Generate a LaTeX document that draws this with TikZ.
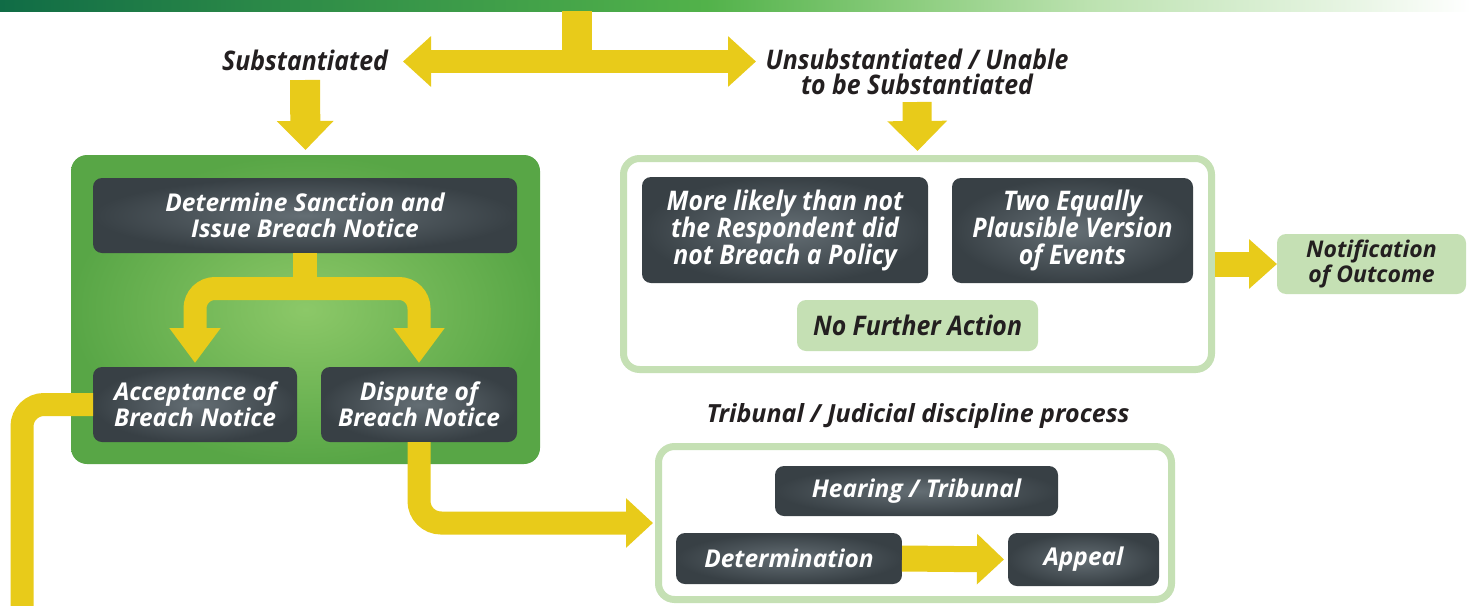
\documentclass[tikz,border=0pt]{standalone}
\usepackage{fontspec}
\usetikzlibrary{arrows.meta}
\newfontfamily\wfont{Open Sans}
\newfontfamily\nfont{Open Sans}[FakeStretch=0.92]
\definecolor{ylw}{RGB}{232,203,26}
\definecolor{lgr}{RGB}{197,224,180}
\definecolor{gdk}{RGB}{88,166,70}
\definecolor{glt}{RGB}{140,200,104}
\definecolor{dkin}{RGB}{100,110,116}
\definecolor{dkout}{RGB}{56,64,69}
\definecolor{txk}{RGB}{35,31,32}
\definecolor{bnA}{RGB}{16,108,70}
\definecolor{bnB}{RGB}{46,140,72}
\definecolor{bnC}{RGB}{82,178,74}
\definecolor{bnD}{RGB}{140,205,126}
\definecolor{bnE}{RGB}{188,226,176}
\definecolor{bnF}{RGB}{232,245,228}
\pgfdeclarehorizontalshading{bannershade}{100bp}{color(0bp)=(bnA); color(25bp)=(bnA); color(35bp)=(bnB); color(49bp)=(bnC); color(56bp)=(bnD); color(62bp)=(bnE); color(71bp)=(bnF); color(75bp)=(white); color(100bp)=(white)}
\begin{document}
\begin{tikzpicture}[x=1pt,y=-1pt,
  every node/.style={inner sep=0pt, outer sep=0pt},
  dbox/.style={rounded corners=9pt, inner color=dkin, outer color=dkout, text=white, align=center},
  wide/.style={font=\wfont\bfseries\itshape\fontsize{24.5}{26}\selectfont},
  narrow/.style={font=\nfont\bfseries\itshape\fontsize{27}{27}\selectfont},
  lbox/.style={rounded corners=9pt, fill=lgr, text=txk, align=center},
  frame/.style={draw=lgr, line width=7pt, rounded corners=16pt, fill=white},
  blabel/.style={text=txk, align=center, font=\nfont\bfseries\itshape\fontsize{27}{25}\selectfont},
  yl/.style={draw=ylw, line width=#1},
]
\useasboundingbox (0,0) rectangle (1471,605);
\fill[white] (0,0) rectangle (1471,605);
\node[shading=bannershade, minimum width=1471pt, minimum height=11pt] (banner) at (735.5,5.5) {};

% labels
\node[blabel, minimum width=196pt] (subst) at (305,60) {Substantiated};
\node[blabel, minimum width=322pt] (unsubst) at (917,72) {Unsubstantiated / Unable\\to be Substantiated};

% containers
\node[rounded corners=16pt, inner color=glt, outer color=gdk, minimum width=469pt, minimum height=309pt] (gbox) at (305.5,309.5) {};
\node[frame, minimum width=588pt, minimum height=211pt] (rbox) at (917.5,264) {};
\node[frame, minimum width=513pt, minimum height=153pt] (bbox) at (915,523) {};

% top connectors
\coordinate (j0) at (577,61.5);
\draw[yl=30pt] (banner.south -| j0) -- (j0);
\draw[yl=23pt, {Triangle[width=49pt,length=28pt]}-{Triangle[width=49pt,length=28pt]}] (subst.east |- j0) -- (unsubst.west |- j0);
\draw[yl=30pt, -{Triangle[width=55pt,length=29pt]}] (subst.south |- 0,80) -- ([yshift=5pt]gbox.north);
\draw[yl=29pt, -{Triangle[width=58pt,length=30pt]}] (unsubst.south |- 0,102) -- ([yshift=7.5pt]rbox.north);

% green box content
\node[dbox, wide, minimum width=424pt, minimum height=75pt] (det) at (305,215.5) {Determine Sanction and\\Issue Breach Notice};
\node[dbox, wide, minimum width=204pt, minimum height=75pt] (acc) at (195,404.5) {Acceptance of\\Breach Notice};
\node[dbox, wide, minimum width=196pt, minimum height=75pt] (dis) at (419,404.5) {Dispute of\\Breach Notice};
\coordinate (j1) at (305,288.5);
\draw[yl=24pt] (det.south) -- (j1);
\draw[yl=23pt, rounded corners=20pt, shorten <=4pt, shorten >=4pt, {Triangle[width=49pt,length=35pt]}-{Triangle[width=49pt,length=35pt]}] (acc.north) |- (j1) -| (dis.north);

% right box content
\node[dbox, narrow, minimum width=286pt, minimum height=106pt] (more) at (785,230) {More likely than not\\the Respondent did\\not Breach a Policy};
\node[dbox, narrow, minimum width=241pt, minimum height=105pt] (two) at (1072.5,230.5) {Two Equally\\Plausible Version\\of Events};
\node[lbox, narrow, minimum width=241pt, minimum height=51pt] (nfa) at (917.5,325.5) {No Further Action};
\node[lbox, font=\wfont\bfseries\itshape\fontsize{23}{23}\selectfont, minimum width=189pt, minimum height=60pt] (notif) at (1371.5,264) {Notification\\of Outcome};
\draw[yl=25pt, shorten <=3.5pt, -{Triangle[width=48pt,length=28pt]}] (rbox.east) -- (notif.west);

% tribunal
\node[text=txk, font=\wfont\bfseries\itshape\fontsize{25}{25}\selectfont] (tlabel) at (918,416) {Tribunal / Judicial discipline process};
\node[dbox, wide, minimum width=283pt, minimum height=50pt] (hear) at (916.5,491) {Hearing / Tribunal};
\node[dbox, wide, minimum width=226pt, minimum height=51pt] (detm) at (789,558.5) {Determination};
\node[dbox, wide, minimum width=151pt, minimum height=53pt] (appeal) at (1083.5,559.5) {Appeal};
\draw[yl=26pt, shorten >=4pt, -{Triangle[width=49pt,length=27pt]}] (detm.east) -- (appeal.west);

% outgoing connectors from the green box
\draw[yl=23pt, rounded corners=22pt, shorten >=5.5pt, -{Triangle[width=48pt,length=27pt]}] (dis.south) |- (bbox.west);
\coordinate (accend) at (22,615);
\draw[yl=23pt, rounded corners=22pt] (acc.west) -| (accend);
\end{tikzpicture}
\end{document}
